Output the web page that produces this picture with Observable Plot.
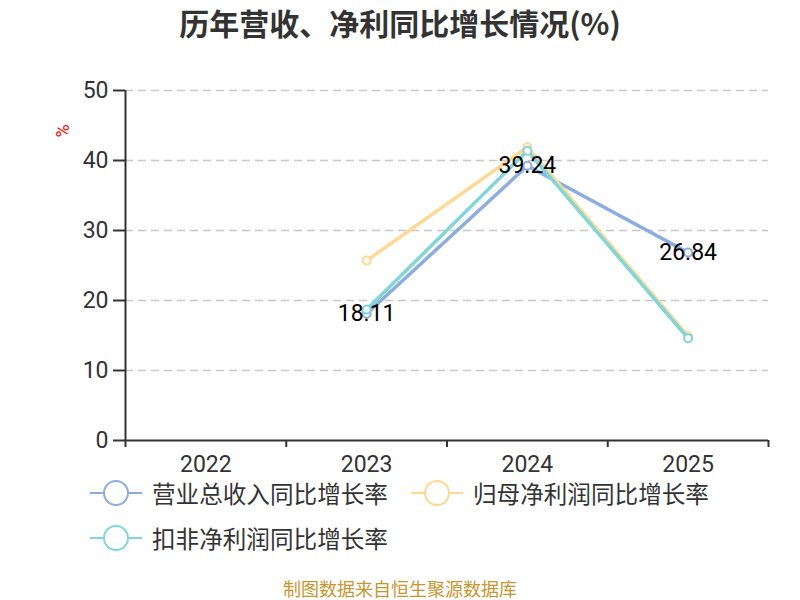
<!DOCTYPE html>
<html>
<head>
<meta charset="utf-8">
<script src="https://cdn.jsdelivr.net/npm/d3@7"></script>
<script src="https://cdn.jsdelivr.net/npm/@observablehq/plot@0.6"></script>
<style>
  body { margin: 0; background: #fff; font-family: Roboto, "Noto Sans CJK SC", sans-serif; }
  #wrap { position: relative; width: 800px; height: 600px; overflow: hidden; }
  #title { position: absolute; left: 0; top: 0px; width: 800px; text-align: center; font-size: 30px; font-weight: bold; color: #333; font-family: "Noto Sans CJK SC", sans-serif; line-height: 44px; }
  #chart { position: absolute; left: 0; top: 50px; }
  #unit { position: absolute; left: 63px; top: 131px; width: 0; height: 0; }
  #unit span { position: absolute; left: 0; top: 0; transform: translate(-50%, -50%) rotate(-90deg); color: red; font-size: 18px; line-height: 18px; }
  #legend { position: absolute; left: 0; top: 0; width: 800px; }
  .item { position: absolute; display: flex; align-items: center; font-size: 23.6px; color: #333; font-family: "Noto Sans CJK SC", sans-serif; white-space: nowrap; }
  .item svg { margin-right: 10px; }
  #caption { position: absolute; left: 0; top: 578px; width: 800px; height: 20px; line-height: 20px; text-align: center; font-size: 18px; color: #c8962e; font-family: "Noto Sans CJK SC", sans-serif; }
</style>
</head>
<body>
<div id="wrap">
  <div id="title">历年营收、净利同比增长情况(%)</div>
  <div id="chart"></div>
  <div id="unit"><span>%</span></div>
  <div id="legend"></div>
  <div id="caption">制图数据来自恒生聚源数据库</div>
</div>
<script>
const years = [2022, 2023, 2024, 2025];
const seriesNames = ["营业总收入同比增长率", "归母净利润同比增长率", "扣非净利润同比增长率"];
const seriesColors = ["#8eaddf", "#ffd894", "#80d6d8"];
const revenueGrowth = [null, 18.11, 39.24, 26.84];
const parentProfitGrowth = [null, 25.7, 41.9, 14.9];
const deductedProfitGrowth = [null, 18.7, 41.4, 14.6];
const yTicks = [0, 10, 20, 30, 40, 50];

const allSeries = [revenueGrowth, parentProfitGrowth, deductedProfitGrowth];
const rows = [];
allSeries.forEach((vals, s) => {
  years.forEach((yr, i) => {
    if (vals[i] != null) rows.push({year: yr, value: vals[i], series: seriesNames[s]});
  });
});
const labelRows = rows.filter(d => d.series === seriesNames[0]);
const boundaries = [...years.map(y => y - 0.5), years[years.length - 1] + 0.5];

const marks = [
  Plot.gridY(yTicks.filter(t => t > 0), {stroke: "#c8c8c8", strokeOpacity: 1, strokeWidth: 1.5, strokeDasharray: "8,5"}),
  Plot.axisY(yTicks, {tickSize: 12, tickPadding: 5, stroke: "#333", strokeWidth: 2, fill: "#333", fontSize: 23, label: null}),
  Plot.axisX(years, {tickSize: 0, tickPadding: 15, fill: "#333", fontSize: 23, tickFormat: d => String(d), label: null}),
  Plot.axisX(boundaries, {tickSize: 7, stroke: "#333", strokeWidth: 2, tickFormat: () => "", label: null}),
  Plot.ruleY([0], {stroke: "#333", strokeWidth: 2}),
  Plot.ruleX([boundaries[0]], {stroke: "#333", strokeWidth: 2})
];
seriesNames.forEach((name, s) => {
  const data = rows.filter(d => d.series === name);
  marks.push(Plot.line(data, {x: "year", y: "value", stroke: seriesColors[s], strokeWidth: 3.5}));
  marks.push(Plot.dot(data, {x: "year", y: "value", stroke: seriesColors[s], fill: "#fff", r: 4, strokeWidth: 2}));
});
marks.push(Plot.text(labelRows, {x: "year", y: "value", text: d => d.value.toFixed(2), fill: "#000", fontSize: 23, textAnchor: "middle", lineAnchor: "middle"}));

const chart = Plot.plot({
  width: 800,
  height: 430,
  marginTop: 40,
  marginBottom: 40,
  marginLeft: 125,
  marginRight: 32,
  style: {fontFamily: "Roboto, 'Noto Sans CJK SC', sans-serif", background: "transparent", overflow: "visible"},
  x: {type: "linear", domain: [boundaries[0], boundaries[boundaries.length - 1]], axis: null},
  y: {domain: [0, 50], axis: null},
  marks
});
document.getElementById("chart").appendChild(chart);

const legendPos = [[90, 493], [411, 493], [90, 538]];
const legend = document.getElementById("legend");
seriesNames.forEach((name, s) => {
  const item = document.createElement("div");
  item.className = "item";
  item.style.left = legendPos[s][0] + "px";
  item.style.top = (legendPos[s][1] - 16) + "px";
  item.style.height = "32px";
  item.innerHTML = `<svg width="52" height="32"><line x1="0" x2="52" y1="16" y2="16" stroke="${seriesColors[s]}" stroke-width="2"/><circle cx="26" cy="16" r="12" fill="#fff" stroke="${seriesColors[s]}" stroke-width="2"/></svg><span>${name}</span>`;
  legend.appendChild(item);
});
</script>
</body>
</html>
